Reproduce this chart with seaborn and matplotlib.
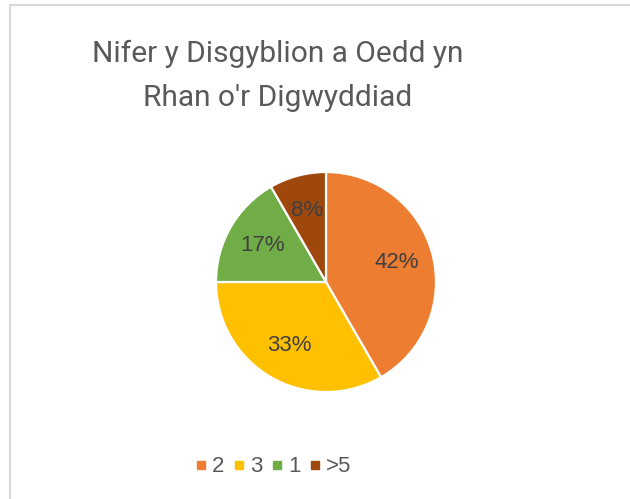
import matplotlib
matplotlib.use("Agg")
import matplotlib.pyplot as plt
from matplotlib.lines import Line2D
from matplotlib.patches import Rectangle
import seaborn as sns

# number of pupils who took part
categories = ["2", "3", "1", ">5"]
counts = [5, 4, 2, 1]
colours = ["#ED7D31", "#FFC000", "#70AD47", "#9E480E"]
title = "Nifer y Disgyblion a Oedd yn\nRhan o'r Digwyddiad"

sns.set_theme(style="white")
plt.rcParams['font.family'] = ['Liberation Sans', 'DejaVu Sans']

fig = plt.figure(figsize=(6.3, 4.99), dpi=100)
fig.patch.set_facecolor("white")

# chart border (only top and left visible in the crop)
fig.add_artist(Rectangle((9.5 / 630, -0.1), 1.2, (499 - 5.5) / 499 + 0.1,
                         transform=fig.transFigure, fill=False,
                         edgecolor="#D9D9D9", linewidth=1.5))

cx, cy, r = 326, 282, 110
ax = fig.add_axes([(cx - r) / 630, (499 - cy - r) / 499, 2 * r / 630, 2 * r / 499])
wedges, texts, autotexts = ax.pie(
    counts, colors=colours, startangle=90, counterclock=False,
    autopct='%1.0f%%', pctdistance=0.67, radius=1,
    wedgeprops=dict(edgecolor="white", linewidth=1.6),
    textprops=dict(fontsize=16, color="#404040"))
ax.set_xlim(-1, 1)
ax.set_ylim(-1, 1)
ax.set_aspect("equal")
ax.axis("off")

fig.text(278 / 630, 1 - 76 / 499, title, ha="center", va="center",
         fontsize=21.5, color="#595959", family=["Roboto", "DejaVu Sans"],
         linespacing=1.72)

handles = [Line2D([0], [0], marker="s", linestyle="", markersize=5.2,
                  markerfacecolor=c, markeredgecolor=c) for c in colours]
fig.legend(handles, categories, loc="center", ncol=4,
           bbox_to_anchor=(274 / 630, 1 - 467 / 499), frameon=False,
           fontsize=16, labelcolor="#595959", handlelength=0.4,
           handletextpad=0.3, columnspacing=0.45)

fig.savefig("out.png", dpi=100)
